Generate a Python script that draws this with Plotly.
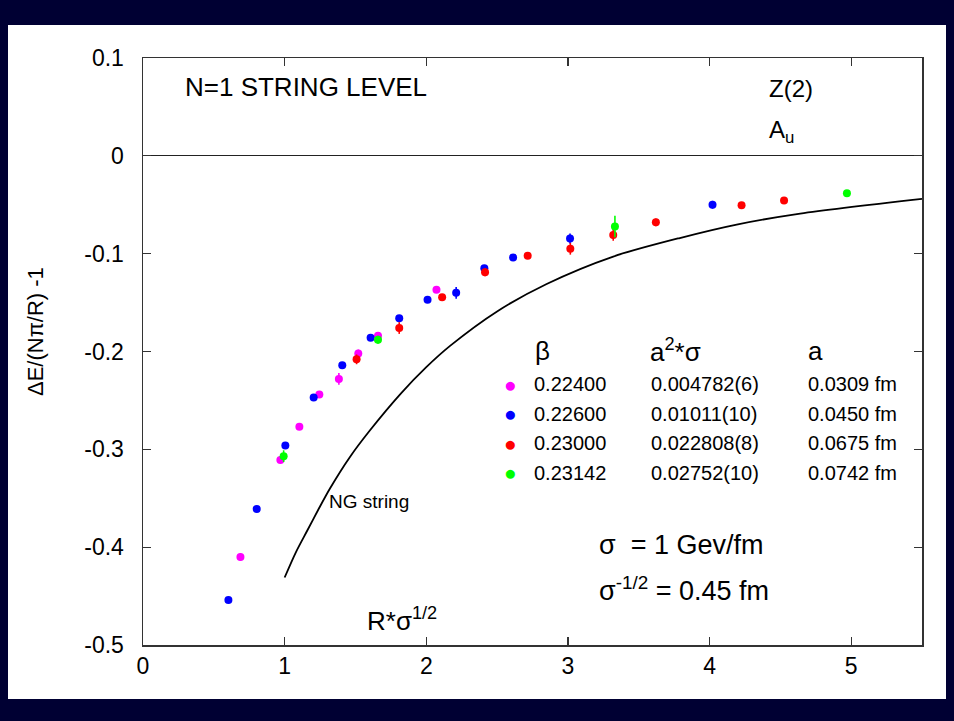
import plotly.graph_objects as go

# ---------------- data ----------------
# beta = 0.22400 (magenta)
mag_x = [0.688, 0.970, 1.104, 1.245, 1.383, 1.520, 1.659, 2.072]
mag_y = [-0.410, -0.311, -0.277, -0.244, -0.228, -0.202, -0.184, -0.137]
mag_e = [0.004, 0.003, 0.002, 0.003, 0.006, 0.004, 0.004, 0.002]

# beta = 0.22600 (blue)
blu_x = [0.603, 0.803, 1.005, 1.205, 1.407, 1.607, 1.809, 2.009, 2.211,
         2.410, 2.613, 3.015, 4.021]
blu_y = [-0.454, -0.361, -0.296, -0.247, -0.214, -0.186, -0.166, -0.147,
         -0.140, -0.115, -0.104, -0.0845, -0.050]
blu_e = [0.002, 0.002, 0.003, 0.002, 0.003, 0.002, 0.002, 0.003, 0.006,
         0.003, 0.002, 0.005, 0.004]

# beta = 0.23000 (red)
red_x = [1.508, 1.809, 2.112, 2.415, 2.716, 3.017, 3.320, 3.621, 4.226, 4.526]
red_y = [-0.208, -0.176, -0.1445, -0.119, -0.1022, -0.095, -0.0808, -0.068,
         -0.0504, -0.0457]
red_e = [0.005, 0.006, 0.003, 0.004, 0.003, 0.006, 0.006, 0.004, 0.003, 0.003]

# beta = 0.23142 (green)
grn_x = [0.993, 1.659, 3.332, 4.970]
grn_y = [-0.307, -0.188, -0.0723, -0.0382]
grn_e = [0.006, 0.004, 0.011, 0.002]

# Nambu-Goto string curve
ng_x = [1.00, 1.08, 1.16, 1.24, 1.32, 1.46, 1.60, 1.82, 2.00, 2.17, 2.50,
        2.85, 3.32, 3.79, 4.20, 4.64, 5.50]
ng_y = [-0.431, -0.405, -0.383, -0.361, -0.340, -0.308, -0.281, -0.243,
        -0.216, -0.194, -0.159, -0.131, -0.103, -0.084, -0.070, -0.059,
        -0.044]

# table legend
betas = ["0.22400", "0.22600", "0.23000", "0.23142"]
a2sigma = ["0.004782(6)", "0.01011(10)", "0.022808(8)", "0.02752(10)"]
a_fm = ["0.0309 fm", "0.0450 fm", "0.0675 fm", "0.0742 fm"]
colors = ["#ff00ff", "#0000ff", "#ff0000", "#00ff00"]

x_tickvals = [0, 1, 2, 3, 4, 5]
x_ticktext = ["0", "1", "2", "3", "4", "5"]
y_tickvals = [-0.5, -0.4, -0.3, -0.2, -0.1, 0.0, 0.1]
y_ticktext = ["-0.5", "-0.4", "-0.3", "-0.2", "-0.1", "0", "0.1"]

# ---------------- figure ----------------
FONT = "Liberation Sans, Arial, Helvetica, sans-serif"
NAVY = "#000033"

fig = go.Figure()
series = [
    (mag_x, mag_y, mag_e, colors[0]),
    (blu_x, blu_y, blu_e, colors[1]),
    (red_x, red_y, red_e, colors[2]),
    (grn_x, grn_y, grn_e, colors[3]),
]
for xs, ys, es, c in series:
    fig.add_trace(go.Scatter(
        x=xs, y=ys, mode="markers",
        marker=dict(color=c, size=8, line=dict(width=0)),
        error_y=dict(type="data", array=es, color=c, thickness=1.6, width=0),
        showlegend=False, hoverinfo="skip"))

fig.add_trace(go.Scatter(
    x=ng_x, y=ng_y, mode="lines",
    line=dict(color="black", width=1.8, shape="spline", smoothing=0.8),
    showlegend=False, hoverinfo="skip"))

ann = []


def txt(x, y, s, size, xanchor="left", xref="x", yref="y", angle=0,
        yanchor="middle", color="black"):
    ann.append(dict(x=x, y=y, xref=xref, yref=yref, text=s, showarrow=False,
                    xanchor=xanchor, yanchor=yanchor, textangle=angle,
                    font=dict(family=FONT, size=size, color=color)))


txt(0.279, 0.0706, "N=1 STRING LEVEL", 26)
txt(4.404, 0.0685, "Z(2)", 24)
txt(4.404, 0.0250, "A<sub>u</sub>", 24)
txt(1.301, -0.3538, "NG string", 19)
txt(3.205, -0.3978, "σ  = 1 Gev/fm", 27)
txt(3.205, -0.4430, "σ<sup>-1/2</sup> = 0.45 fm", 27)
txt(1.569, -0.4740, "R*σ<sup>1/2</sup>", 26)

# table header
txt(2.754, -0.1990, "β", 26)
txt(3.565, -0.1985, "a<sup>2</sup>*σ", 26)
txt(4.679, -0.1990, "a", 26)

row_y0 = -0.2334
row_dy = -0.0301
for i in range(len(betas)):
    yy = row_y0 + i * row_dy
    txt(2.592, yy, "●", 21, xanchor="center", color=colors[i])
    txt(2.749, yy, betas[i], 20)
    txt(3.572, yy, a2sigma[i], 20)
    txt(4.679, yy, a_fm[i], 20)

# y-axis title
txt(-0.1386, 0.5332, "ΔE/(Nπ/R) -1", 22, xanchor="center",
    xref="paper", yref="paper", angle=-90)

# navy frame around the page (paper coordinates of the plot area)
L, T, W, H = 143, 58, 779, 587


def px(xp):
    return (xp - L) / W


def py(yp):
    return (T + H - yp) / H


shapes = []
for (x0, y0, x1, y1) in [(0, 0, 954, 25), (0, 699, 954, 721),
                         (0, 0, 8, 721), (946, 0, 954, 721)]:
    shapes.append(dict(type="rect", xref="paper", yref="paper",
                       x0=px(x0), x1=px(x1), y0=py(y1), y1=py(y0),
                       fillcolor=NAVY, line=dict(width=0), layer="above"))

axis_common = dict(showline=True, linecolor="#333333", linewidth=1.5,
                   mirror="ticks", ticks="inside", ticklen=8,
                   tickcolor="#333333", tickwidth=1.2, showgrid=False,
                   tickfont=dict(family=FONT, size=23, color="black"))

fig.update_layout(
    width=954, height=721,
    margin=dict(l=L, r=954 - L - W, t=T, b=721 - T - H),
    paper_bgcolor="white", plot_bgcolor="white",
    xaxis=dict(range=[0, 5.5], tickvals=x_tickvals, ticktext=x_ticktext,
               zeroline=False, ticklabelstandoff=0, **axis_common),
    yaxis=dict(range=[-0.5, 0.1], tickvals=y_tickvals, ticktext=y_ticktext,
               zeroline=True, zerolinecolor="#222222", zerolinewidth=1,
               ticklabelstandoff=13, **axis_common),
    annotations=ann, shapes=shapes, showlegend=False,
)

fig.write_html("out.html",
               config={"displayModeBar": False, "staticPlot": True},
               post_script="document.body.style.margin='0px';"
                           "document.body.style.padding='0px';"
                           "document.body.style.overflow='hidden';")
